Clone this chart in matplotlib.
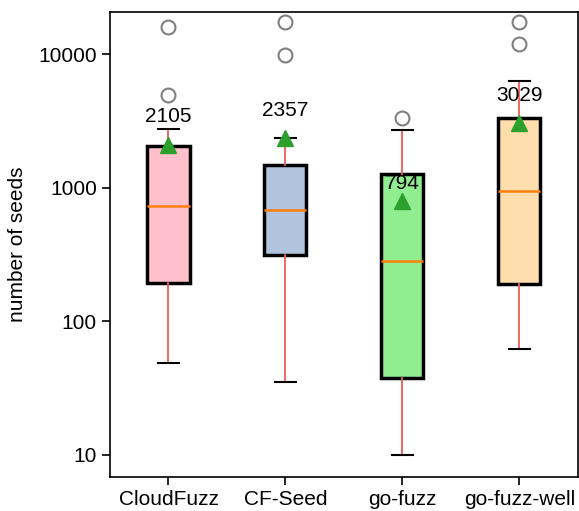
import matplotlib
matplotlib.use("Agg")
import matplotlib.pyplot as plt

plt.rcParams['font.family'] = ['Liberation Sans', 'DejaVu Sans']

categories = ["CloudFuzz", "CF-Seed", "go-fuzz", "go-fuzz-well"]
whislo = [49, 35, 10, 62]
q1 = [194, 315, 38, 191]
medians = [733, 684, 284, 950]
q3 = [2050, 1490, 1273, 3310]
whishi = [2740, 2340, 2700, 6280]
means = [2105, 2357, 794, 3029]
fliers = [[4930, 15900], [9800, 17400], [3310], [11900, 17400]]
mean_labels = ["2105", "2357", "794", "3029"]
box_colors = ["pink", "lightsteelblue", "lightgreen", "navajowhite"]
label_offsets = [20, 20, 13, 20]  # points above mean marker

stats = []
for i, c in enumerate(categories):
    stats.append(dict(label=c, whislo=whislo[i], q1=q1[i], med=medians[i],
                      q3=q3[i], whishi=whishi[i], mean=means[i], fliers=fliers[i]))

fig = plt.figure(figsize=(5.79, 5.11), dpi=100)
ax = fig.add_axes([0.19, 0.0665, 0.808, 0.91])

bp = ax.bxp(stats, widths=0.36, showmeans=True, patch_artist=True,
            boxprops=dict(edgecolor='black', linewidth=2.5),
            whiskerprops=dict(color='#f05a5a', linewidth=1.3),
            capprops=dict(color='black', linewidth=1.5),
            medianprops=dict(color='#ff7f0e', linewidth=1.8),
            meanprops=dict(marker='^', markerfacecolor='#2ca02c', markeredgecolor='#2ca02c', markersize=11),
            flierprops=dict(marker='o', markerfacecolor='none', markeredgecolor='gray', markersize=10, markeredgewidth=1.5))
for patch, col in zip(bp['boxes'], box_colors):
    patch.set_facecolor(col)

for i, m in enumerate(means):
    ax.annotate(mean_labels[i], xy=(i + 1, m), xytext=(0, label_offsets[i]),
                textcoords='offset points', ha='center', va='center', fontsize=15)

ax.set_yscale('log')
ax.set_ylim(6.84, 20650)
ax.set_xlim(0.5, 4.5)
ax.set_yticks([10, 100, 1000, 10000])
ax.set_yticklabels(["10", "100", "1000", "10000"])
ax.minorticks_off()
ax.tick_params(axis='both', labelsize=15, length=6, width=1.2)
ax.set_ylabel("number of seeds", fontsize=15, labelpad=8)
for s in ax.spines.values():
    s.set_linewidth(1.2)

fig.savefig("out.png", dpi=100)
